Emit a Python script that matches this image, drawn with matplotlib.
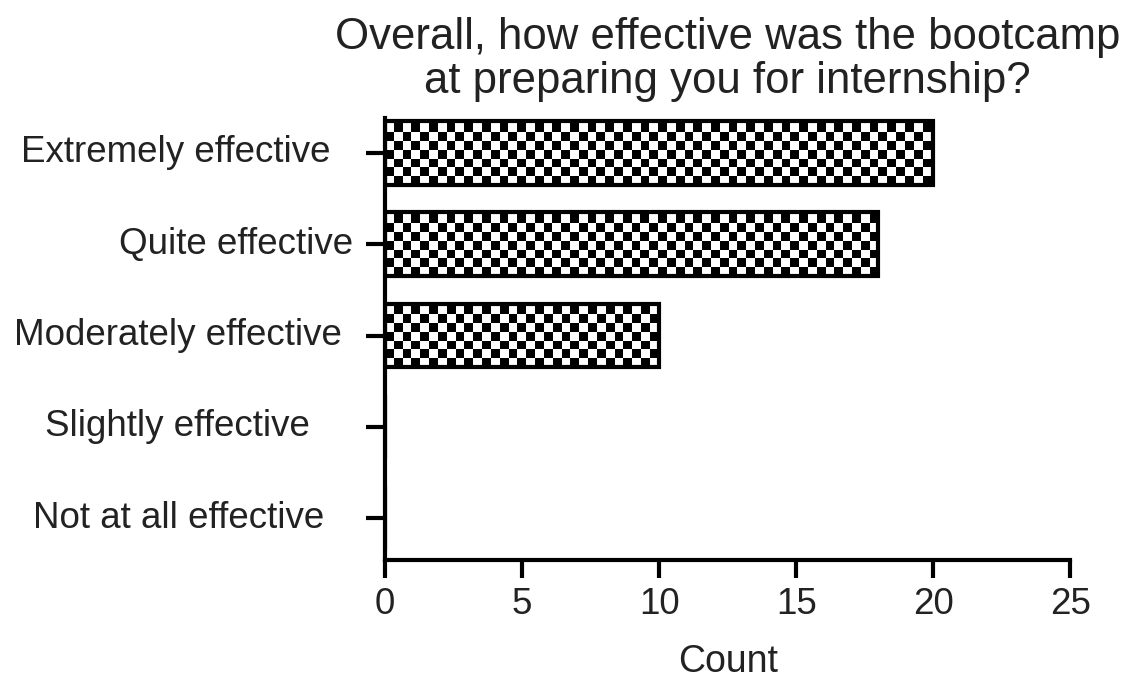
import numpy as np
import matplotlib.pyplot as plt
from matplotlib.transforms import blended_transform_factory

# Datos
categorias = ['Extremely effective', 'Quite effective', 'Moderately effective',
              'Slightly effective', 'Not at all effective']
conteos = [20, 18, 10, 0, 0]
x_ticks = [0, 5, 10, 15, 20, 25]
titulo = 'Overall, how effective was the bootcamp\nat preparing you for internship?'

plt.rcParams['font.family'] = ['Liberation Sans', 'DejaVu Sans']

fig = plt.figure(figsize=(11.29, 6.79), dpi=100)
ax = fig.add_axes([0.341, 0.175, 0.607, 0.651])

y_pos = np.arange(len(categorias))[::-1]
bars = ax.barh(y_pos, conteos, height=0.7, facecolor='none',
               edgecolor='black', linewidth=3, zorder=3)

ax.set_xlim(0, 25)
ax.set_ylim(-0.46, 4.38)

# Textura de tablero de ajedrez dentro de cada barra
fig.canvas.draw()
px_x = ax.transData.transform((1, 0))[0] - ax.transData.transform((0, 0))[0]
px_y = ax.transData.transform((0, 1))[1] - ax.transData.transform((0, 0))[1]
celda = 8.8
for b in bars:
    w, h = b.get_width(), b.get_height()
    if w <= 0:
        continue
    nx = int(np.ceil(w * px_x / celda))
    ny = int(np.ceil(h * px_y / celda))
    ii, jj = np.meshgrid(np.arange(nx), np.arange(ny))
    tablero = ((ii + jj) % 2).astype(float)
    x0, y0 = b.get_x(), b.get_y()
    im = ax.imshow(tablero, cmap='gray', vmin=0, vmax=1, interpolation='nearest',
                   extent=[x0, x0 + nx * celda / px_x, y0, y0 + ny * celda / px_y],
                   aspect='auto', zorder=2)
    im.set_clip_path(b)
ax.set_xlim(0, 25)
ax.set_ylim(-0.46, 4.38)

for s in ['top', 'right']:
    ax.spines[s].set_visible(False)
for s in ['left', 'bottom']:
    ax.spines[s].set_linewidth(3)

ax.set_xticks(x_ticks)
ax.tick_params(axis='x', direction='out', length=13, width=3, labelsize=26.5,
               pad=6, labelcolor='#222222')
ax.set_yticks(y_pos)
ax.set_yticklabels([])
ax.tick_params(axis='y', direction='out', length=14, width=3)

# Etiquetas del eje y (centradas, como en el original)
trans = blended_transform_factory(fig.transFigure, ax.transData)
x_centro = [176, 236, 178, 177, 179]
for lab, yp, xc in zip(categorias, y_pos, x_centro):
    ax.text(xc / 1129, yp, lab, transform=trans, ha='center', va='center',
            fontsize=26.5, color='#222222')

ax.set_xlabel('Count', fontsize=27, labelpad=16, color='#222222')
ax.set_title(titulo, fontsize=31.5, pad=18, linespacing=1.1, color='#222222')

plt.savefig('out.png', dpi=100)
